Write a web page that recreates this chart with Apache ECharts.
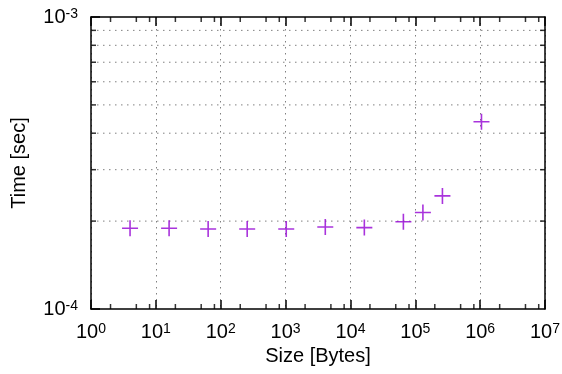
<!DOCTYPE html>
<html>
<head>
<meta charset="utf-8">
<script src="https://cdn.jsdelivr.net/npm/echarts@6/dist/echarts.min.js"></script>
<style>
  html, body { margin: 0; padding: 0; background: #fff; }
  #chart { width: 562px; height: 374px; }
</style>
</head>
<body>
<div id="chart"></div>
<script>
// data
const sizes = [4, 16, 64, 256, 1024, 4096, 16384, 65536, 131072, 262144, 1048576];
const times = [1.89e-4, 1.89e-4, 1.88e-4, 1.88e-4, 1.88e-4, 1.91e-4, 1.90e-4, 1.99e-4, 2.14e-4, 2.44e-4, 4.38e-4];

const xMin = 1, xMax = 1e7;
const yMin = 1e-4, yMax = 1e-3;
const xMinorTicks = [2, 5, 8, 20, 50, 80, 200, 500, 800, 2e3, 5e3, 8e3, 2e4, 5e4, 8e4,
  2e5, 5e5, 8e5, 2e6, 5e6, 8e6];
const yMinorTicks = [2e-4, 3e-4, 4e-4, 5e-4, 6e-4, 7e-4, 8e-4, 9e-4];

const FONT = "Liberation Sans";
const purple = "#9400d3";
const dotStyle = { color: "#808080", width: 1, type: [1.5, 4.5] };

const chart = echarts.init(document.getElementById("chart"));

const richLabel = {
  b: { fontSize: 20, fontFamily: FONT, color: "#000", lineHeight: 20 },
  s: { fontSize: 14, fontFamily: FONT, color: "#000", lineHeight: 14, verticalAlign: "top" },
};
const powLabel = (v) => "{b|10}{s|" + Math.round(Math.log10(v)) + "}";

const axisLine = { show: true, onZero: false, lineStyle: { color: "#000", width: 1.5 } };

function tickSeries(data, size, offset) {
  return {
    type: "scatter",
    data: data,
    symbol: "rect",
    symbolSize: size,
    symbolOffset: offset,
    itemStyle: { color: "#000" },
    silent: true,
    clip: false,
    z: 5,
  };
}

// dotted horizontal grid at every minor y tick
const gridLines = yMinorTicks.map((v) => ({
  type: "line",
  data: [[xMin, v], [xMax, v]],
  symbol: "none",
  silent: true,
  lineStyle: dotStyle,
  z: 1,
}));

const option = {
  animation: false,
  backgroundColor: "#fff",
  grid: { left: 91, right: 17, top: 17, bottom: 65, containLabel: false, outerBoundsMode: "none" },
  xAxis: [
    {
      type: "log",
      logBase: 10,
      min: xMin,
      max: xMax,
      splitNumber: 7,
      name: "Size [Bytes]",
      nameLocation: "middle",
      nameGap: 36,
      nameTextStyle: { fontSize: 20, fontFamily: FONT, color: "#000" },
      axisLine: axisLine,
      axisTick: { inside: true, length: 9, lineStyle: { color: "#000", width: 1.5 } },
      axisLabel: { margin: 13, formatter: powLabel, rich: richLabel },
      splitLine: { show: true, lineStyle: dotStyle },
    },
    {
      type: "log",
      logBase: 10,
      position: "top",
      min: xMin,
      max: xMax,
      splitNumber: 7,
      axisLine: axisLine,
      axisTick: { inside: true, length: 9, lineStyle: { color: "#000", width: 1.5 } },
      axisLabel: { show: false },
      splitLine: { show: false },
    },
  ],
  yAxis: [
    {
      type: "log",
      logBase: 10,
      min: yMin,
      max: yMax,
      name: "Time [sec]",
      nameLocation: "middle",
      nameGap: 62,
      nameTextStyle: { fontSize: 20, fontFamily: FONT, color: "#000" },
      axisLine: axisLine,
      axisTick: { inside: true, length: 9, lineStyle: { color: "#000", width: 1.5 } },
      axisLabel: { margin: 13, formatter: powLabel, rich: richLabel },
      splitLine: { show: false },
    },
    {
      type: "log",
      logBase: 10,
      position: "right",
      min: yMin,
      max: yMax,
      axisLine: axisLine,
      axisTick: { show: false },
      axisLabel: { show: false },
      splitLine: { show: false },
    },
  ],
  series: [
    ...gridLines,
    {
      name: "time",
      type: "scatter",
      data: sizes.map((s, i) => [s, times[i]]),
      symbol: "path://M5,0L5,10M0,5L10,5",
      symbolSize: 16,
      itemStyle: { color: purple, borderColor: purple, borderWidth: 1.6 },
      z: 10,
    },
    tickSeries(xMinorTicks.map((v) => [v, yMin]), [1.5, 5], [0, -2.5]),
    tickSeries(xMinorTicks.map((v) => [v, yMax]), [1.5, 5], [0, 2.5]),
    tickSeries(yMinorTicks.map((v) => [xMin, v]), [5, 1.5], [2.5, 0]),
    tickSeries(yMinorTicks.map((v) => [xMax, v]), [5, 1.5], [-2.5, 0]),
  ],
};

chart.setOption(option);
window.addEventListener("resize", () => chart.resize());
</script>
</body>
</html>
